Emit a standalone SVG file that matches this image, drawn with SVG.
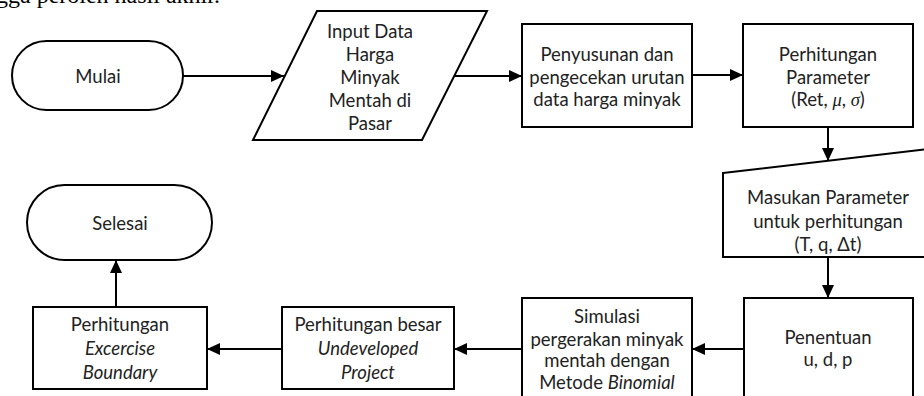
<svg xmlns="http://www.w3.org/2000/svg" width="924" height="396" viewBox="0 0 924 396">
<defs>
<marker id="arr" markerUnits="userSpaceOnUse" markerWidth="14" markerHeight="12" refX="13" refY="6" orient="auto">
<path d="M0,0 L13,6 L0,12 Z" fill="#000"/>
</marker>
<style>
.s{fill:#fff;stroke:#000;stroke-width:2}
.t{font-family:Lato,"Open Sans","Liberation Sans",sans-serif;font-size:18.5px;fill:#222;text-anchor:middle}
.i{font-style:italic}
.c{fill:none;stroke:#000;stroke-width:2;marker-end:url(#arr)}
</style>
</defs>
<rect width="924" height="396" fill="#fff"/>
<text x="-4" y="3" font-family="Liberation Serif,serif" font-size="24" fill="#000">gga peroleh hasil akhir.</text>
<g id="connectors">
<path class="c" d="M183,76 H284"/>
<path class="c" d="M455,76 H522"/>
<path class="c" d="M692,75 H743"/>
<path class="c" d="M828,127 V161"/>
<path class="c" d="M828,257 V298"/>
<path class="c" d="M744,349 H692"/>
<path class="c" d="M522,349 H454"/>
<path class="c" d="M282,349 H207"/>
<path class="c" d="M116,307 V260"/>
</g>
<g id="mulai">
<rect class="s" x="12" y="41" width="171" height="69" rx="34.5"/>
<text class="t" x="98" y="83">Mulai</text>
</g>
<g id="input">
<polygon class="s" points="317,11 487,11 422,140 253,140"/>
<text class="t" x="370" y="38">Input Data</text>
<text class="t" x="370" y="61">Harga</text>
<text class="t" x="370" y="84">Minyak</text>
<text class="t" x="370" y="107">Mentah di</text>
<text class="t" x="370" y="130">Pasar</text>
</g>
<g id="penyusunan">
<rect class="s" x="522" y="24" width="170" height="103"/>
<text class="t" x="607" y="61">Penyusunan dan</text>
<text class="t" x="607" y="84">pengecekan urutan</text>
<text class="t" x="607" y="106">data harga minyak</text>
</g>
<g id="parameter">
<rect class="s" x="743" y="24" width="170" height="103"/>
<text class="t" x="828" y="61">Perhitungan</text>
<text class="t" x="828" y="84">Parameter</text>
<text class="t" x="828" y="106">(Ret, <tspan class="i" font-family="Liberation Serif,serif">μ</tspan>, <tspan class="i" font-family="Liberation Serif,serif">σ</tspan>)</text>
</g>
<g id="masukan">
<polygon class="s" points="723,173 936,148 936,257 723,257"/>
<text class="t" x="828" y="204">Masukan Parameter</text>
<text class="t" x="828" y="228">untuk perhitungan</text>
<text class="t" x="828" y="251">(T, q, Δt)</text>
</g>
<g id="penentuan">
<rect class="s" x="744" y="298" width="169" height="112"/>
<text class="t" x="828" y="344">Penentuan</text>
<text class="t" x="828" y="366">u, d, p</text>
</g>
<g id="simulasi">
<rect class="s" x="522" y="298" width="170" height="112"/>
<text class="t" x="607" y="323">Simulasi</text>
<text class="t" x="607" y="346">pergerakan minyak</text>
<text class="t" x="607" y="367">mentah dengan</text>
<text class="t" x="607" y="389">Metode <tspan class="i">Binomial</tspan></text>
</g>
<g id="undeveloped">
<rect class="s" x="282" y="307" width="172" height="82"/>
<text class="t" x="368" y="331">Perhitungan besar</text>
<text class="t i" x="368" y="355">Undeveloped</text>
<text class="t i" x="368" y="379">Project</text>
</g>
<g id="boundary">
<rect class="s" x="33" y="307" width="174" height="82"/>
<text class="t" x="120" y="331">Perhitungan</text>
<text class="t i" x="120" y="355">Excercise</text>
<text class="t i" x="120" y="379">Boundary</text>
</g>
<g id="selesai">
<rect class="s" x="27" y="185" width="185" height="75" rx="37.5"/>
<text class="t" x="120" y="230">Selesai</text>
</g>
</svg>
